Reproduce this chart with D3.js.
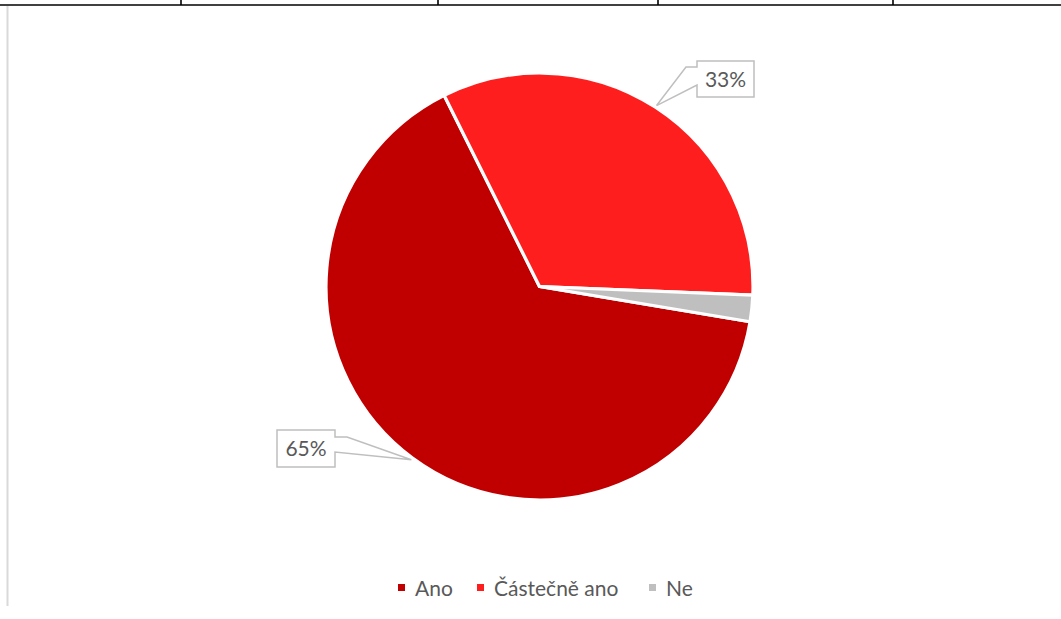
<!DOCTYPE html>
<html>
<head>
<meta charset="utf-8">
<script src="https://cdn.jsdelivr.net/npm/d3@7"></script>
<style>
  body { margin: 0; background: #fff; }
  svg { display: block; font-family: Lato, 'Open Sans', sans-serif; }
</style>
</head>
<body>
<svg id="chart" width="1061" height="619"></svg>
<script>
const categories = ['Ano', 'Částečně ano', 'Ne']
const values = [65, 33, 2]
const colors = ['#C00000', '#FF1E1E', '#BFBFBF']
const labelled = [true, true, false]

const svg = d3.select('#chart')
const width = 1061
const cx = 539.5
const cy = 286.5
const radius = 213.5

// table border left over at the top of the page
svg.append('line')
  .attr('x1', 0).attr('x2', width)
  .attr('y1', 5).attr('y2', 5)
  .attr('stroke', '#000').attr('stroke-width', 1.6)
svg.selectAll('.cell')
  .data([181, 438, 658, 893])
  .enter()
  .append('line')
  .attr('x1', (d) => d).attr('x2', (d) => d)
  .attr('y1', 0).attr('y2', 5)
  .attr('stroke', '#000').attr('stroke-width', 1.6)
svg.append('line')
  .attr('x1', 7.5).attr('x2', 7.5)
  .attr('y1', 6).attr('y2', 606)
  .attr('stroke', '#d9d9d9').attr('stroke-width', 2)

const data = categories.map((c, i) => ({ name: c, value: values[i], color: colors[i], label: labelled[i] }))

const pie = d3.pie()
  .sort(null)
  .value((d) => d.value)
  .startAngle(99.5 * Math.PI / 180)
  .endAngle((99.5 + 360) * Math.PI / 180)
const slices = pie(data)

const arc = d3.arc().innerRadius(0).outerRadius(radius)

const g = svg.append('g').attr('transform', `translate(${cx},${cy})`)
g.selectAll('path')
  .data(slices)
  .enter()
  .append('path')
  .attr('d', arc)
  .attr('fill', (d) => d.data.color)
  .attr('stroke', '#fff')
  .attr('stroke-width', 3.2)
  .attr('stroke-linejoin', 'round')

// callout boxes (box position is layout, the pointer tip follows the slice)
const boxes = {
  'Ano': { x: 277, y: 430, w: 58, h: 37, side: 'right', a: 7, b: 22, elbow: 12 },
  'Částečně ano': { x: 697, y: 61, w: 57, h: 36, side: 'left', a: 6, b: 24, elbow: 11 }
}

slices.filter((d) => d.data.label).forEach((d) => {
  const box = boxes[d.data.name]
  const mid = (d.startAngle + d.endAngle) / 2
  const tx = cx + Math.sin(mid) * (radius + 2)
  const ty = cy - Math.cos(mid) * (radius + 2)
  const { x, y, w, h, a, b, elbow } = box
  let p
  if (box.side === 'left') {
    p = [[x, y], [x + w, y], [x + w, y + h], [x, y + h], [x, y + b], [tx, ty], [x - elbow, y + a], [x, y + a]]
  } else {
    p = [[x, y], [x + w, y], [x + w, y + a], [x + w + elbow, y + a], [tx, ty], [x + w, y + b], [x + w, y + h], [x, y + h]]
  }
  svg.append('path')
    .attr('d', d3.line()(p) + 'Z')
    .attr('fill', '#fff')
    .attr('stroke', '#BFBFBF')
    .attr('stroke-width', 1.5)
  svg.append('text')
    .attr('x', x + w / 2)
    .attr('y', y + h / 2)
    .attr('dy', '0.36em')
    .attr('text-anchor', 'middle')
    .attr('font-size', 21)
    .attr('fill', '#595959')
    .text(d3.format('.0%')(d.data.value / d3.sum(values)))
})

// legend
const legendX = [398, 477, 649]
const legend = svg.selectAll('.legend')
  .data(data)
  .enter()
  .append('g')
  .attr('transform', (d, i) => `translate(${legendX[i]},584)`)
legend.append('rect')
  .attr('width', 7).attr('height', 7)
  .attr('fill', (d) => d.color)
legend.append('text')
  .attr('x', 17)
  .attr('y', 12)
  .attr('font-size', 21)
  .attr('fill', '#595959')
  .text((d) => d.name)
</script>
</body>
</html>
